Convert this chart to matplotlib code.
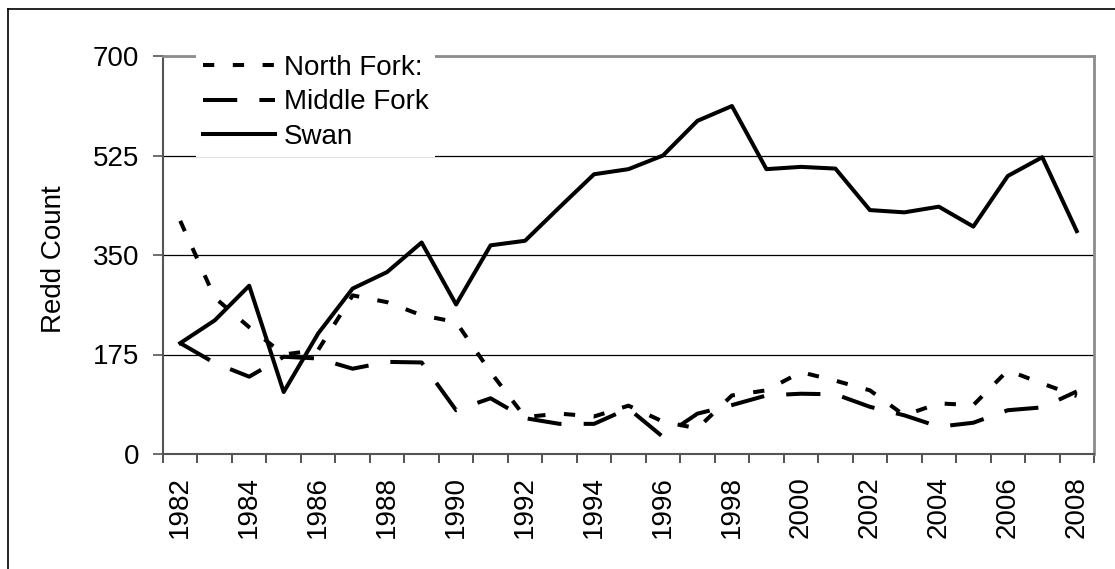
import matplotlib.pyplot as plt
from matplotlib.lines import Line2D
import numpy as np

plt.rcParams['font.family'] = ['Liberation Sans', 'DejaVu Sans']
FS = 20

# redd counts per year
years = list(range(1982, 2009))
north_fork = [410, 275, 223, 175, 183, 279, 267, 244, 232, 144, 65, 71, 66, 85,
              57, 45, 103, 112, 144, 129, 112, 68, 89, 86, 147, 124, 102]
middle_fork = [195, 160, 136, 171, 168, 150, 162, 161, 77, 98, 63, 53, 53, 80,
               30, 71, 86, 103, 106, 105, 83, 68, 48, 55, 77, 82, 110]
swan = [195, 235, 296, 109, 212, 291, 320, 372, 263, 367, 375, 434, 492, 501,
        525, 586, 612, 501, 505, 502, 429, 425, 435, 400, 489, 522, 392]
y_ticks = [0, 175, 350, 525, 700]

fig = plt.figure(figsize=(11.15, 5.69), dpi=100)
ax = fig.add_axes([163 / 1115, 1 - 454 / 569, 931 / 1115, 398 / 569])

x = np.arange(len(years))
lw = 2.9
ax.plot(x, north_fork, color='black', lw=lw, dashes=(2.8, 4.6),
        solid_capstyle='butt', label='North Fork:', zorder=3)
ax.plot(x, middle_fork, color='black', lw=lw, dashes=(8.5, 5.5),
        label='Middle Fork', zorder=3)
ax.plot(x, swan, color='black', lw=lw, label='Swan', zorder=4)

# axes and grid
ax.set_xlim(-0.5, len(years) - 0.5)
ax.set_ylim(0, 700)
ax.set_yticks(y_ticks)
ax.yaxis.grid(True, color='black', lw=0.9)
ax.set_axisbelow(True)

# labels every other year, ticks between categories
ax.set_xticks(x[::2])
ax.set_xticklabels([str(y) for y in years[::2]], rotation=90)
ax.set_xticks(np.arange(len(years) + 1) - 0.5, minor=True)
ax.tick_params(axis='x', which='major', length=0, pad=16, labelsize=FS)
ax.tick_params(axis='x', which='minor', length=6.5, width=1.2, color='#333333')
ax.tick_params(axis='y', length=7, width=1.2, color='#555555', pad=10,
               labelsize=FS)

for side in ['left', 'bottom']:
    ax.spines[side].set_color('#555555')
    ax.spines[side].set_linewidth(1.5)
for side in ['top', 'right']:
    ax.spines[side].set_color('#8c8c8c')
    ax.spines[side].set_linewidth(2)

ax.set_ylabel('Redd Count', va='center', fontsize=FS)
ax.yaxis.set_label_coords(-0.117, 0.49)

leg = ax.legend(loc='upper left', bbox_to_anchor=(196 / 1115, 1 - 48 / 569),
                bbox_transform=fig.transFigure, handlelength=2.6,
                handletextpad=0.3, labelspacing=0.3, borderpad=0.25,
                borderaxespad=0, fancybox=False, framealpha=1,
                edgecolor='none', fontsize=FS)
leg.get_frame().set_facecolor('white')
leg.set_zorder(5)

# outer chart border (top and left edges visible)
fig.add_artist(Line2D([8 / 1115, 8 / 1115], [0, 1 - 9 / 569],
                      transform=fig.transFigure, color='black', lw=1.2))
fig.add_artist(Line2D([8 / 1115, 1], [1 - 9 / 569, 1 - 9 / 569],
                      transform=fig.transFigure, color='black', lw=1.2))

fig.savefig('out.png', dpi=100)
